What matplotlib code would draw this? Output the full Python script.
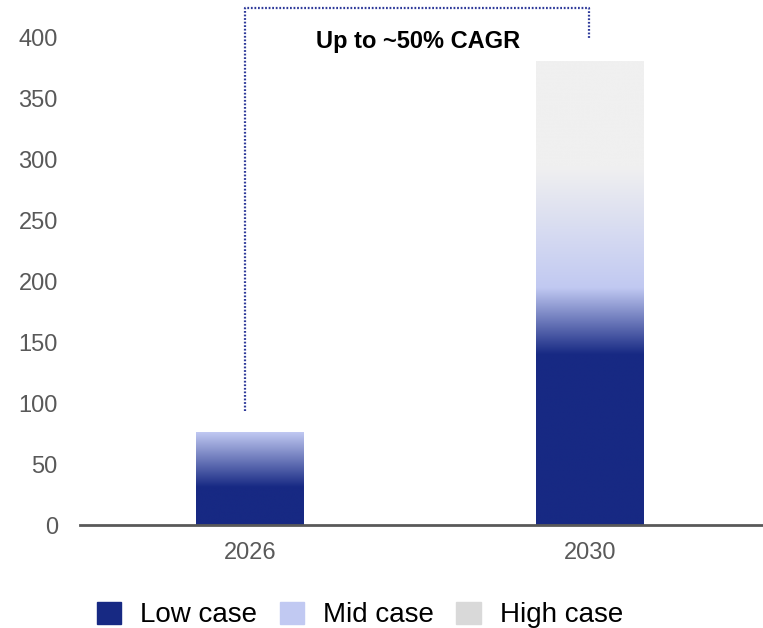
"""Market size scenarios chart, 2026 vs 2030."""
import numpy as np
import matplotlib.pyplot as plt
from matplotlib.colors import to_rgb
from matplotlib.patches import Patch

plt.rcParams['font.family'] = ['Liberation Sans', 'DejaVu Sans']

categories = ['2026', '2030']
low_case = [31, 140]      # top of the solid low-case block
mid_case = [76, 195]      # where the bar reaches the full mid-case shade
high_blend = [None, 294]  # where the bar reaches the full high-case shade
high_case = [None, 381]   # top of the high-case block
y_ticks = [0, 50, 100, 150, 200, 250, 300, 350, 400]
legend_labels = ['Low case', 'Mid case', 'High case']
note = 'Up to ~50% CAGR'

NAVY = '#172983'
LAVENDER = '#C1C9F2'
BAR_GREY = '#F0F0F0'
LEGEND_GREY = '#D9D9D9'
TEXT_GREY = '#595959'


def bar_stops(i):
    """Value/colour stops for the vertical gradient of bar i."""
    stops = [(0, NAVY), (low_case[i], NAVY), (mid_case[i], LAVENDER)]
    if high_case[i] is not None:
        stops += [(high_blend[i], BAR_GREY), (high_case[i], BAR_GREY)]
    return stops


def draw_gradient_bar(ax, x, width, stops):
    vals = np.array([s[0] for s in stops], dtype=float)
    cols = np.array([to_rgb(s[1]) for s in stops])
    top = vals[-1]
    ys = np.linspace(0, top, 600)
    img = np.stack([np.interp(ys, vals, cols[:, k]) for k in range(3)], axis=-1)
    img = img[:, None, :]
    ax.imshow(img, origin='lower', aspect='auto', interpolation='bilinear',
              extent=[x - width / 2, x + width / 2, 0, top], zorder=2)


fig = plt.figure(figsize=(7.63, 6.28), dpi=100)
ax = fig.add_axes([80 / 763, 1 - 525 / 628, 680 / 763, (525 - 38) / 628])

bar_width = 0.315
for i, cat in enumerate(categories):
    draw_gradient_bar(ax, i, bar_width, bar_stops(i))

ax.set_xlim(-0.5, 1.5)
ax.set_ylim(0, 400)
ax.set_xticks(range(len(categories)))
ax.set_xticklabels(categories)
ax.set_yticks(y_ticks)
ax.tick_params(axis='both', length=0, labelsize=17, labelcolor=TEXT_GREY)
ax.tick_params(axis='y', pad=16)
ax.tick_params(axis='x', pad=12)
for side in ['top', 'right', 'left']:
    ax.spines[side].set_visible(False)
ax.spines['bottom'].set_color(TEXT_GREY)
ax.spines['bottom'].set_linewidth(2)
ax.spines['bottom'].set_zorder(3)
ax.spines['bottom'].set_bounds(-0.5, 1.52)
ax.spines['bottom'].set_clip_on(False)

# CAGR bracket
bx = [-0.015, -0.015, 0.997, 0.997]
by = [94, 425, 425, 400]
ax.plot(bx, by, color='#2E3A9A', linestyle=(0, (0.8, 0.8)), linewidth=1.6,
        clip_on=False, zorder=4)
ax.text(0.494, 397, note, ha='center', va='center', fontsize=17,
        fontweight='bold', color='black')

handles = [Patch(color=NAVY), Patch(color=LAVENDER), Patch(color=LEGEND_GREY)]
fig.legend(handles, legend_labels, loc='center', bbox_to_anchor=(360 / 763, 1 - 615 / 628),
           ncol=3, frameon=False, fontsize=20, handlelength=0.87, handleheight=0.87,
           handletextpad=0.7, columnspacing=0.8, borderpad=0)

fig.savefig('out.png', dpi=100)
